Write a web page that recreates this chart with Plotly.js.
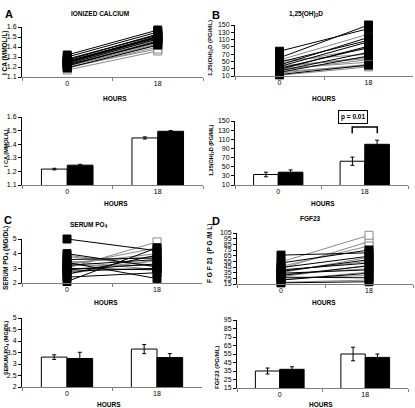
<!DOCTYPE html>
<html><head><meta charset="utf-8">
<script src="https://cdn.plot.ly/plotly-3.0.1.min.js"></script>
<style>html,body{margin:0;padding:0;background:#fff}#c{width:415px;height:408px}</style>
</head><body><div id="c"></div>
<script>
// category labels
const hours = ['0', '18'];

// Panel A: ionized calcium (mmol/L), individual subjects
const caOpen0   = [1.17, 1.19, 1.20, 1.21, 1.21, 1.22, 1.22, 1.23, 1.24, 1.25, 1.26, 1.27];
const caOpen18  = [1.36, 1.40, 1.38, 1.43, 1.42, 1.45, 1.44, 1.46, 1.48, 1.47, 1.50, 1.52];
const caFill0   = [1.19, 1.21, 1.22, 1.23, 1.24, 1.25, 1.25, 1.26, 1.27, 1.28, 1.30, 1.32];
const caFill18  = [1.42, 1.46, 1.45, 1.48, 1.50, 1.49, 1.51, 1.50, 1.53, 1.52, 1.55, 1.57];
const caBarOpen = [1.217, 1.446], caErrOpen = [0.006, 0.008];
const caBarFill = [1.246, 1.495], caErrFill = [0.006, 0.005];

// Panel B: 1,25(OH)2D (pg/mL)
const dOpen0   = [12, 18, 22, 26, 30, 33, 38, 45, 52, 54];
const dOpen18  = [35, 42, 38, 55, 48, 62, 58, 86, 70, 125];
const dFill0   = [14, 20, 24, 28, 31, 36, 40, 48, 60, 78];
const dFill18  = [40, 65, 75, 92, 88, 104, 116, 108, 150, 140];
const dBarOpen = [33, 62], dErrOpen = [5, 9];
const dBarFill = [38, 99], dErrFill = [5, 9];

// Panel C: serum PO4 (mg/dL)
const pOpen0   = [3.0, 3.8, 3.3, 2.6, 3.5, 3.2, 3.9, 3.4, 2.9, 3.2];
const pOpen18  = [4.8, 3.2, 4.0, 3.6, 2.9, 4.4, 3.1, 3.8, 3.5, 3.2];
const pFill0   = [5.0, 4.0, 3.6, 3.4, 3.2, 3.0, 2.9, 2.8, 2.6, 2.4, 2.1];
const pFill18  = [4.2, 3.1, 3.7, 2.3, 3.6, 2.9, 3.3, 3.0, 3.9, 2.7, 4.4];
const pBarOpen = [3.30, 3.65], pErrOpen = [0.1, 0.2];
const pBarFill = [3.24, 3.28], pErrFill = [0.27, 0.17];

// Panel D: FGF23 (pg/mL)
const fOpen0   = [18, 22, 25, 28, 32, 35, 38, 42, 46, 54];
const fOpen18  = [22, 36, 30, 48, 42, 62, 55, 90, 82, 101];
const fFill0   = [17, 22, 27, 30, 34, 37, 40, 44, 52, 66];
const fFill18  = [19, 34, 26, 47, 40, 58, 52, 64, 75, 70];
const fBarOpen = [35, 55], fErrOpen = [3.5, 8];
const fBarFill = [37, 51], fErrFill = [3, 4];

const FONT = 'Liberation Sans, Arial, sans-serif';
const traces = [];

function spaghetti(a0, a18, xa, ya, open) {
  for (let i = 0; i < a0.length; i++) {
    traces.push({
      type: 'scatter', mode: 'lines+markers', x: hours, y: [a0[i], a18[i]],
      xaxis: xa, yaxis: ya, showlegend: false, cliponaxis: false, hoverinfo: 'skip',
      line: {color: open ? '#8a8a8a' : '#000', width: 1},
      marker: {symbol: 'square', size: 8, color: open ? '#fff' : '#000',
               line: {color: open ? '#8a8a8a' : '#000', width: 1}}
    });
  }
}
function bars(vo, eo, vf, ef, xa, ya) {
  traces.push({type: 'bar', x: hours, y: vo, xaxis: xa, yaxis: ya, showlegend: false,
    marker: {color: '#fff', line: {color: '#000', width: 1}},
    error_y: {type: 'data', array: eo, visible: true, color: '#000', thickness: 1, width: 2}});
  traces.push({type: 'bar', x: hours, y: vf, xaxis: xa, yaxis: ya, showlegend: false,
    marker: {color: '#000', line: {color: '#000', width: 1}},
    error_y: {type: 'data', array: ef, visible: true, color: '#000', thickness: 1, width: 2}});
}

spaghetti(caOpen0, caOpen18, 'x', 'y', true);
spaghetti(caFill0, caFill18, 'x', 'y', false);
bars(caBarOpen, caErrOpen, caBarFill, caErrFill, 'x2', 'y2');
spaghetti(dOpen0, dOpen18, 'x3', 'y3', true);
spaghetti(dFill0, dFill18, 'x3', 'y3', false);
bars(dBarOpen, dErrOpen, dBarFill, dErrFill, 'x4', 'y4');
spaghetti(pOpen0, pOpen18, 'x5', 'y5', true);
spaghetti(pFill0, pFill18, 'x5', 'y5', false);
bars(pBarOpen, pErrOpen, pBarFill, pErrFill, 'x6', 'y6');
spaghetti(fOpen0, fOpen18, 'x7', 'y7', true);
spaghetti(fFill0, fFill18, 'x7', 'y7', false);
bars(fBarOpen, fErrOpen, fBarFill, fErrFill, 'x8', 'y8');

const W = 415, H = 408;
function px(a, b) { return [a / W, b / W]; }
function py(top, bot) { return [1 - bot / H, 1 - top / H]; }

function xax(dom, anchor) {
  return {domain: dom, anchor: anchor, type: 'category', range: [-0.5, 1.5],
    showline: true, linecolor: '#7f7f7f', linewidth: 1, ticks: 'outside', tickson: 'boundaries',
    ticklen: 3, tickcolor: '#7f7f7f', showgrid: false, zeroline: false,
    tickfont: {size: 7, family: FONT, color: '#000'}, fixedrange: true};
}
function yax(dom, anchor, r, dt, fmt) {
  return {domain: dom, anchor: anchor, range: r, dtick: dt, tick0: r[0],
    showline: true, linecolor: '#000', linewidth: 1, ticks: 'outside', ticklen: 3,
    tickcolor: '#000', showgrid: false, zeroline: false, tickformat: fmt || '',
    tickfont: {size: 7, family: FONT, color: '#000'}, fixedrange: true};
}

const layout = {
  width: W, height: H, margin: {l: 0, r: 0, t: 0, b: 0},
  paper_bgcolor: '#fff', plot_bgcolor: '#fff', showlegend: false,
  barmode: 'group', bargap: 0.43, bargroupgap: 0,
  font: {family: FONT, color: '#000'},
  xaxis:  xax(px(22, 203), 'y'),   yaxis:  yax(py(27, 77), 'x', [1.1, 1.6], 0.1, '.1f'),
  xaxis2: xax(px(22, 203), 'y2'),  yaxis2: yax(py(117, 185), 'x2', [1.1, 1.6], 0.1, '.1f'),
  xaxis3: xax(px(235, 413), 'y3'), yaxis3: yax(py(25, 76), 'x3', [10, 150], 20),
  xaxis4: xax(px(235, 408), 'y4'), yaxis4: yax(py(121, 185), 'x4', [10, 150], 20),
  xaxis5: xax(px(22, 202), 'y5'),  yaxis5: yax(py(239, 283), 'x5', [2, 5], 1),
  xaxis6: xax(px(22, 202), 'y6'),  yaxis6: yax(py(318, 387), 'x6', [2, 5], 0.5),
  xaxis7: xax(px(237, 413), 'y7'), yaxis7: yax(py(233, 284), 'x7', [15, 105], 10),
  xaxis8: xax(px(237, 408), 'y8'), yaxis8: yax(py(320, 388), 'x8', [15, 95], 10),
  shapes: [
    {type: 'path', xref: 'x4', yref: 'y4', path: 'M 0.855 123 L 0.855 137 L 1.145 137 L 1.145 123',
     line: {color: '#000', width: 1.5}}
  ],
  annotations: []
};

function ann(text, x, y, size, angle, extra) {
  layout.annotations.push(Object.assign({text: text, x: x / W, y: 1 - y / H, xref: 'paper', yref: 'paper',
    showarrow: false, xanchor: 'center', yanchor: 'middle', textangle: angle || 0,
    font: {size: size, family: FONT, color: '#000'}}, extra || {}));
}
// panel letters
ann('<b>A</b>', 9, 14, 11); ann('<b>B</b>', 216, 15, 11);
ann('<b>C</b>', 8, 220, 11); ann('<b>D</b>', 216, 221, 11);
// panel titles
ann('<b>IONIZED CALCIUM</b>', 100, 14, 6.5);
ann('<b>1,25(OH)<sub>2</sub>D</b>', 306, 14, 6.5);
ann('<b>SERUM PO<sub>4</sub></b>', 89, 225, 6.5);
ann('<b>FGF23</b>', 310, 218, 6.5);
// HOURS
ann('<b>HOURS</b>', 115, 98, 6.5); ann('<b>HOURS</b>', 116, 203, 6.5);
ann('<b>HOURS</b>', 324, 98, 6.5); ann('<b>HOURS</b>', 323, 203, 6.5);
ann('<b>HOURS</b>', 106, 302, 6.5); ann('<b>HOURS</b>', 109, 404, 6.5);
ann('<b>HOURS</b>', 324, 302, 6.5); ann('<b>HOURS</b>', 321, 404, 6.5);
// y titles
ann('<b>I CA (MMOL/L)</b>', 5, 53, 6.5, -90);
ann('<b>I CA (MMOL/L)</b>', 6, 148, 5.5, -90);
ann('<b>1,25(OH)<sub>2</sub>D (PG/ML)</b>', 210, 48, 6, -90);
ann('<b>1,25(OH)<sub>2</sub>D (PG/ML)</b>', 211, 150, 5.5, -90);
ann('<b>SERUM PO<sub>4</sub> (MG/DL)</b>', 6, 258, 6.5, -90);
ann('<b>SERUM PO<sub>4</sub> (MG/DL)</b>', 6, 348, 5.5, -90);
ann('<b>F G F 23  (P G /M L)</b>', 210, 253, 6.5, -90);
ann('<b>FGF23 (PG/ML)</b>', 217, 368, 6, -90);
// p-value box
ann('<b>p = 0.01</b>', 353, 116.5, 6.5, 0, {bordercolor: '#000', borderwidth: 1, borderpad: 2});

Plotly.newPlot('c', traces, layout, {staticPlot: true, displayModeBar: false});
</script></body></html>
